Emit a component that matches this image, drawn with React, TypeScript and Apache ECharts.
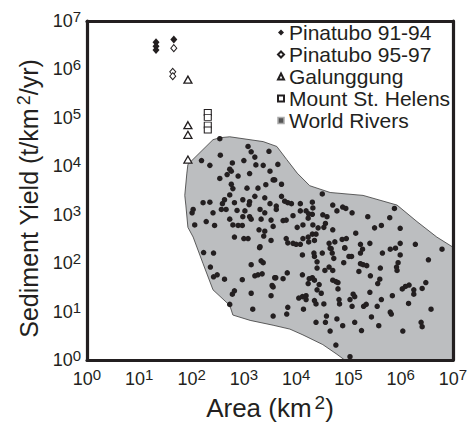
import React, { useEffect, useRef } from "react";
import * as echarts from "echarts";

// All values are log10 exponents: [log10 Area (km2), log10 Sediment Yield (t/km2/yr)]
const pinatubo9194: [number, number][] = [[1.32, 6.56], [1.32, 6.48], [1.32, 6.40], [1.66, 6.62]];
const pinatubo9597: [number, number][] = [[1.66, 6.44], [1.64, 5.95], [1.64, 5.86]];
const galunggung: [number, number][] = [[1.93, 5.79], [1.93, 4.85], [1.93, 4.65], [1.93, 4.14]];
const mountStHelens: [number, number][] = [[2.31, 5.11], [2.31, 5.01], [2.31, 4.85], [2.31, 4.75]];

const worldRiversEnvelope: [number, number][] = [
  [1.93, 4.04], [2.41, 4.55], [2.54, 4.59], [2.73, 4.61], [3.37, 4.51], [3.63, 4.41], [3.82, 4.14],
  [4.02, 3.86], [4.26, 3.60], [4.65, 3.46], [5.28, 3.40], [5.93, 3.20], [6.31, 2.86], [6.69, 2.54],
  [7.0, 2.33], [7.0, 0], [4.93, 0], [4.78, 0.12], [4.51, 0.32], [4.13, 0.52], [3.88, 0.64],
  [3.56, 0.72], [3.12, 0.82], [2.79, 0.93], [2.73, 1.13], [2.41, 1.45], [2.22, 1.99], [2.03, 2.54],
  [1.93, 2.74], [1.89, 3.20], [1.87, 3.40], [1.91, 3.86],
];

const worldRivers: [number, number][] = [
  [2.54, 4.57], [3.08, 4.41], [3.14, 4.30], [3.21, 4.19], [2.55, 4.23], [2.19, 4.12], [2.35, 4.02],
  [2.78, 4.07], [3.00, 4.12], [3.23, 4.03], [3.37, 4.02], [3.50, 3.90], [2.76, 3.90], [2.68, 3.83],
  [2.89, 3.80], [2.54, 3.75], [3.11, 3.85], [3.56, 3.72], [2.76, 3.63], [3.27, 3.55], [3.42, 3.62],
  [2.79, 3.54], [3.06, 3.55], [2.73, 3.41], [3.21, 3.38], [3.40, 3.35], [2.98, 3.31], [2.63, 3.31],
  [3.11, 3.27], [2.82, 3.25], [2.22, 3.25], [2.35, 3.26], [2.59, 3.23], [2.66, 3.11], [2.87, 3.09],
  [3.10, 3.21], [3.31, 3.11], [3.50, 3.23], [2.03, 3.11], [2.41, 3.04], [2.01, 3.04], [3.02, 3.08],
  [2.57, 3.11], [3.11, 2.96], [3.14, 2.91], [2.98, 2.96], [3.40, 3.04], [3.52, 2.89], [3.33, 2.91],
  [2.73, 2.91], [2.28, 2.86], [2.06, 2.79], [2.44, 2.78], [2.79, 2.79], [2.89, 2.78], [2.97, 2.78],
  [3.29, 2.69], [3.40, 2.66], [2.82, 2.54], [3.00, 2.51], [3.08, 2.51], [3.38, 2.56], [3.31, 2.34],
  [3.52, 2.47], [3.48, 4.31], [2.73, 3.94],
  [3.65, 4.04], [3.59, 3.72], [3.72, 3.63], [4.50, 3.43], [3.72, 3.38], [3.78, 3.28], [3.84, 3.25],
  [3.91, 3.23], [4.08, 3.23], [4.31, 3.26], [3.62, 3.18], [3.62, 3.11], [4.32, 3.14], [4.70, 3.20],
  [4.89, 3.16], [4.95, 3.13], [4.78, 3.08], [5.07, 3.04], [4.08, 3.08], [4.19, 3.08], [4.24, 3.02],
  [4.31, 3.01], [3.94, 2.98], [4.51, 3.00], [4.59, 2.96], [4.23, 2.93], [3.81, 2.89], [3.75, 2.88],
  [4.56, 2.82], [4.32, 2.79], [4.13, 2.79], [4.02, 2.74], [4.42, 2.73], [4.53, 2.74], [4.70, 2.69],
  [3.56, 2.76], [5.14, 2.62], [4.31, 2.60], [4.38, 2.60], [4.23, 2.54], [4.13, 2.51], [3.81, 2.51],
  [4.35, 2.47], [3.84, 2.42], [3.94, 2.41], [4.00, 2.39], [4.08, 2.39], [4.24, 2.44], [4.63, 2.41],
  [4.74, 2.44], [4.88, 2.49], [4.96, 2.51], [5.23, 2.39], [4.65, 2.31], [4.93, 2.31], [5.27, 2.29],
  [5.88, 3.13], [5.37, 2.96], [5.79, 2.94], [5.50, 2.73], [5.63, 2.78], [5.99, 2.72], [5.41, 2.41],
  [5.99, 2.41], [6.28, 2.39], [5.90, 2.31], [5.80, 2.29], [6.79, 2.29], [6.53, 2.07],
  [2.23, 2.22], [2.42, 2.21], [3.30, 2.32], [2.36, 1.92], [3.14, 1.97], [3.33, 2.05], [3.37, 2.01],
  [2.42, 1.72], [2.49, 1.76], [2.63, 1.67], [2.97, 1.66], [3.21, 1.74], [3.27, 1.76], [3.35, 1.78],
  [3.59, 1.70], [3.54, 1.54], [2.82, 1.43], [2.78, 1.36], [3.14, 1.38], [3.52, 1.33], [2.73, 1.15],
  [3.17, 1.05], [3.56, 0.91],
  [4.12, 2.17], [4.34, 2.21], [4.35, 2.14], [4.50, 2.21], [4.67, 2.30], [4.69, 2.21], [4.72, 2.10],
  [4.93, 2.32], [5.01, 2.14], [5.06, 2.14], [5.23, 2.21], [4.40, 2.03], [4.91, 2.01], [5.23, 1.99],
  [4.40, 1.90], [4.55, 1.85], [4.63, 1.92], [4.70, 1.85], [5.20, 1.83], [3.83, 1.80], [4.12, 1.76],
  [3.61, 1.70], [3.75, 1.68], [4.25, 1.68], [4.31, 1.70], [4.35, 1.65], [4.23, 1.58], [4.70, 1.65],
  [4.76, 1.62], [4.80, 1.60], [4.44, 1.56], [3.56, 1.51], [4.80, 1.47], [4.40, 1.45], [4.48, 1.38],
  [5.09, 1.36], [5.12, 1.31], [4.05, 1.28], [4.12, 1.31], [4.19, 1.33], [4.19, 1.25], [4.35, 1.23],
  [4.38, 1.16], [4.53, 1.16], [4.82, 1.25], [4.83, 1.16], [5.03, 1.25], [5.07, 1.11], [5.29, 1.11],
  [3.84, 1.09], [4.14, 1.05], [3.82, 0.95], [4.58, 0.91], [4.78, 0.85], [4.38, 0.78], [4.56, 0.78],
  [4.89, 0.71], [5.12, 0.78], [4.65, 0.60], [5.25, 0.61], [4.76, 0.31], [5.03, 0.07],
  [5.65, 2.21], [5.99, 2.17], [5.28, 1.97], [5.35, 1.95], [5.95, 2.01], [5.92, 1.92], [5.93, 1.85],
  [5.61, 1.90], [5.42, 1.74], [5.60, 1.67], [5.56, 1.58], [6.48, 1.60], [6.41, 1.48], [6.16, 1.55],
  [6.09, 1.52], [6.03, 1.47], [6.25, 1.45], [6.25, 1.36], [5.41, 1.40], [5.84, 1.33], [5.63, 1.25],
  [6.15, 1.17], [5.34, 1.15], [5.55, 1.11], [6.58, 1.05], [5.80, 0.99], [5.82, 0.95], [5.44, 0.89],
  [5.58, 0.71], [6.39, 0.78], [6.41, 0.69], [6.04, 0.60],
];

const axisMinExp = 0;
const axisMaxExp = 7;

const FONT = "'Liberation Sans', Arial, Helvetica, sans-serif";
const INK = "#231f20";

const toValues = (pts: [number, number][]) => pts.map(([a, b]) => [Math.pow(10, a), Math.pow(10, b)]);

export default function App() {
  const ref = useRef<HTMLDivElement>(null);
  useEffect(() => {
    if (!ref.current) return;
    const chart = echarts.init(ref.current, undefined, { renderer: "svg" });
    const tickLabel = {
      formatter: (v: number) => `{b|10}{s|${Math.round(Math.log10(v))}}`,
      rich: {
        b: { fontSize: 18, fontFamily: FONT, color: INK, lineHeight: 24 },
        s: { fontSize: 15, fontFamily: FONT, color: INK, verticalAlign: "top", lineHeight: 15 },
      },
    };
    const nameRichX = {
      n: { fontSize: 26, fontFamily: FONT, color: INK, lineHeight: 30 },
      s: { fontSize: 19, fontFamily: FONT, color: INK, verticalAlign: "top", lineHeight: 19, padding: [0, 0, 0, 3] },
    };
    const nameRichY = {
      n: { fontSize: 25, fontFamily: FONT, color: INK, lineHeight: 29 },
      s: { fontSize: 18, fontFamily: FONT, color: INK, verticalAlign: "top", lineHeight: 18, padding: [0, 0, 0, 3] },
    };
    const frameLine = { show: true, lineStyle: { color: INK, width: 3.2 } };
    const baseAxis = {
      type: "log",
      logBase: 10,
      min: Math.pow(10, axisMinExp),
      max: Math.pow(10, axisMaxExp),
      axisTick: { show: false },
      splitLine: { show: false },
      z: 10,
    };
    const envelope = worldRiversEnvelope;
    chart.setOption({
      animation: false,
      backgroundColor: "#ffffff",
      grid: { left: 87, top: 21, right: 20, bottom: 57 },
      legend: {
        orient: "vertical",
        left: 277,
        top: 22,
        padding: 0,
        itemGap: 1,
        itemWidth: 6,
        itemHeight: 6,
        textStyle: { fontSize: 21, fontFamily: FONT, color: INK },
        data: [
          { name: "Pinatubo 91-94", icon: "diamond" },
          { name: "Pinatubo 95-97", icon: "diamond" },
          { name: "Galunggung", icon: "triangle" },
          { name: "Mount St. Helens", icon: "rect" },
          { name: "World Rivers", icon: "rect", itemStyle: { color: "#555", borderColor: "#aaa", borderWidth: 1.5 } },
        ],
      },
      xAxis: [
        {
          ...baseAxis,
          position: "bottom",
          axisLine: frameLine,
          axisLabel: { ...tickLabel, margin: 7 },
          name: "{n|Area (km}{s|2}{n|)}",
          nameLocation: "middle",
          nameGap: 27,
          nameTextStyle: { rich: nameRichX },
        },
        { ...baseAxis, position: "top", axisLine: frameLine, axisLabel: { show: false } },
      ],
      yAxis: [
        {
          ...baseAxis,
          position: "left",
          axisLine: frameLine,
          axisLabel: { ...tickLabel, margin: 6 },
          name: "{n|Sediment Yield (t/km}{s|2}{n|/yr)}",
          nameLocation: "middle",
          nameGap: 38,
          nameTextStyle: { rich: nameRichY, padding: [0, 16, 0, 0] },
        },
        { ...baseAxis, position: "right", axisLine: frameLine, axisLabel: { show: false } },
      ],
      series: [
        {
          type: "custom",
          name: "envelope",
          z: 1,
          silent: true,
          data: [[1, 1]],
          encode: { x: 0, y: 1 },
          renderItem: (_params: any, api: any) => {
            const points = envelope.map(([a, b]) => api.coord([Math.pow(10, a), Math.pow(10, b)]));
            return {
              type: "polygon",
              shape: { points },
              style: { fill: "#bcbec0", stroke: "#3a3a3a", lineWidth: 0.8 },
            };
          },
        },
        {
          type: "scatter",
          name: "World Rivers",
          z: 3,
          symbol: "circle",
          symbolSize: 5.5,
          itemStyle: { color: INK, opacity: 1 },
          data: toValues(worldRivers),
        },
        {
          type: "scatter",
          name: "Pinatubo 91-94",
          z: 4,
          symbol: "diamond",
          symbolSize: [7, 8],
          itemStyle: { color: INK, opacity: 1 },
          data: toValues(pinatubo9194),
        },
        {
          type: "scatter",
          name: "Pinatubo 95-97",
          z: 4,
          symbol: "diamond",
          symbolSize: [6, 7],
          itemStyle: { color: "#ffffff", borderColor: INK, borderWidth: 1, opacity: 1 },
          data: toValues(pinatubo9597),
        },
        {
          type: "scatter",
          name: "Galunggung",
          z: 4,
          symbol: "triangle",
          symbolSize: [8, 7],
          itemStyle: { color: "#ffffff", borderColor: INK, borderWidth: 1.3, opacity: 1 },
          data: toValues(galunggung),
        },
        {
          type: "scatter",
          name: "Mount St. Helens",
          z: 4,
          symbol: "rect",
          symbolSize: [7, 6],
          itemStyle: { color: "#ffffff", borderColor: INK, borderWidth: 1, opacity: 1 },
          data: toValues(mountStHelens),
        },
      ],
    });
    return () => chart.dispose();
  }, []);
  return <div ref={ref} style={{ width: 473, height: 426, position: "absolute", left: 0, top: 0 }} />;
}
